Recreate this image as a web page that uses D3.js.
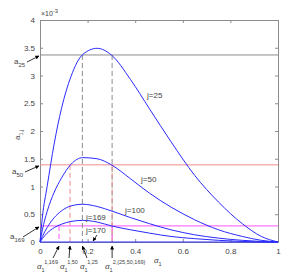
<!DOCTYPE html>
<html>
<head>
<meta charset="utf-8">
<script src="https://cdn.jsdelivr.net/npm/d3@7"></script>
<style>
body{margin:0;background:#fff;}
text{font-family:"Liberation Sans",Arial,sans-serif;fill:#444;}
</style>
</head>
<body>
<div id="chart"></div>
<script>
//constants

var width = 307,
	height = 273,
	margin = {top:20, right:29, bottom:31, left:40};

// values (units of 1e-3)
var alphaGrid = [0, 0.01, 0.03, 0.06, 0.09, 0.13, 0.18, 0.24, 0.30, 0.38, 0.46, 0.55, 0.65, 0.75, 0.85, 0.93, 1];
var j25  = [0, 0.45, 1.0, 1.78, 2.4, 2.98, 3.38, 3.49, 3.37, 2.93, 2.4, 1.81, 1.2, 0.72, 0.33, 0.1, 0];
var j50  = [0, 0.22, 0.55, 0.9, 1.15, 1.4, 1.52, 1.5, 1.39, 1.14, 0.88, 0.63, 0.4, 0.22, 0.1, 0.03, 0];
var j100 = [0, 0.1, 0.26, 0.44, 0.56, 0.65, 0.68, 0.64, 0.56, 0.44, 0.33, 0.22, 0.13, 0.07, 0.03, 0.01, 0];
var j169 = [0, 0.06, 0.16, 0.26, 0.32, 0.37, 0.39, 0.36, 0.29, 0.22, 0.16, 0.1, 0.06, 0.03, 0.01, 0, 0];
var j170 = [0, 0, 0, 0, 0, 0, 0, 0, 0, 0, 0, 0, 0, 0, 0, 0, 0];

var levelNames = ['25', '50', '169'];
var levelValues = [3.37, 1.39, 0.29];
var levelColors = ['#8c8c8c', '#f28b8b', '#ff55ff'];
var crossFirst = [0.178, 0.126, 0.08];
var crossSecond = 0.303;

var xTicks = [0, 0.2, 0.4, 0.6, 0.8, 1];
var yTicks = [0, 0.5, 1, 1.5, 2, 2.5, 3, 3.5, 4];

//drawing area

var svg = d3.select('#chart')
	.append('svg')
	.attr('width', width)
	.attr('height', height);

var x = d3.scaleLinear().domain([0, 1]).range([margin.left, width - margin.right]);
var y = d3.scaleLinear().domain([0, 4]).range([height - margin.bottom, margin.top]);

var axisColor = '#8c8c8c';

// axes, MATLAB style box with inward ticks
var fmt = function(d){ return d === 0 || d === 1 || d === 4 ? d : d3.format('.1f')(d).replace(/\.0$/, ''); };

var gx = svg.append('g').attr('transform', 'translate(0,' + y(0) + ')')
	.call(d3.axisBottom(x).tickValues(xTicks).tickSize(-3).tickPadding(6).tickFormat(fmt));
var gxt = svg.append('g').attr('transform', 'translate(0,' + y(4) + ')')
	.call(d3.axisTop(x).tickValues(xTicks).tickSize(-3).tickFormat(''));
var gy = svg.append('g').attr('transform', 'translate(' + x(0) + ',0)')
	.call(d3.axisLeft(y).tickValues(yTicks).tickSize(-3).tickPadding(5).tickFormat(fmt));
var gyr = svg.append('g').attr('transform', 'translate(' + x(1) + ',0)')
	.call(d3.axisRight(y).tickValues(yTicks).tickSize(-3).tickFormat(''));

[gx, gxt, gy, gyr].forEach(function(g){
	g.select('.domain').attr('stroke', axisColor);
	g.selectAll('.tick line').attr('stroke', axisColor);
	g.selectAll('.tick text').attr('font-size', 8).attr('fill', '#444')
		.attr('font-family', '"Liberation Sans",Arial,sans-serif');
});

// x10^-3
var exp = svg.append('text').attr('x', x(0) + 1).attr('y', y(4) - 4).attr('font-size', 7);
exp.append('tspan').text('\u00d710');
exp.append('tspan').attr('dy', -3).attr('font-size', 6).text('-3');

// horizontal levels a_j
levelValues.forEach(function(v, i){
	svg.append('line')
		.attr('x1', x(0)).attr('x2', x(1))
		.attr('y1', y(v)).attr('y2', y(v))
		.attr('stroke', levelColors[i]).attr('stroke-width', 1);
});

// dashed drops at the crossing points
levelValues.forEach(function(v, i){
	[crossFirst[i], crossSecond].forEach(function(a){
		svg.append('line')
			.attr('x1', x(a)).attr('x2', x(a))
			.attr('y1', y(v)).attr('y2', y(0))
			.attr('stroke', levelColors[i]).attr('stroke-width', 1)
			.attr('stroke-dasharray', '5,3');
	});
});

// curves
var line = d3.line()
	.x(function(d){ return x(d[0]); })
	.y(function(d){ return y(d[1]); })
	.curve(d3.curveMonotoneX);

[j25, j50, j100, j169, j170].forEach(function(s){
	svg.append('path')
		.datum(d3.zip(alphaGrid, s))
		.attr('fill', 'none')
		.attr('stroke', '#2a2aff')
		.attr('stroke-width', 1)
		.attr('d', line);
});

// arrow head marker
svg.append('defs').append('marker')
	.attr('id', 'ah')
	.attr('viewBox', '0 0 10 10')
	.attr('refX', 9).attr('refY', 5)
	.attr('markerWidth', 5).attr('markerHeight', 5)
	.attr('orient', 'auto')
	.append('path').attr('d', 'M0,0L10,5L0,10z').attr('fill', '#000');

var arrow = function(x1, y1, x2, y2){
	svg.append('line')
		.attr('x1', x1).attr('y1', y1).attr('x2', x2).attr('y2', y2)
		.attr('stroke', '#000').attr('stroke-width', 0.8)
		.attr('marker-end', 'url(#ah)');
};

// a_j labels on the left
var aLabelPos = [[14, 64], [12, 174], [10, 239]];
levelValues.forEach(function(v, i){
	var t = svg.append('text').attr('x', aLabelPos[i][0]).attr('y', aLabelPos[i][1]).attr('font-size', 8);
	t.append('tspan').text('a');
	t.append('tspan').attr('dy', 3).attr('font-size', 6).text(levelNames[i]);
	arrow(aLabelPos[i][0] + 13, aLabelPos[i][1] - 2, x(0) - 1, y(v) + 1);
});

// curve labels
var jLabels = [['j=25', 147, 98], ['j=50', 141, 182], ['j=100', 125, 213], ['j=169', 86, 220], ['j=170', 86, 233]];
jLabels.forEach(function(d){
	svg.append('text').attr('x', d[1]).attr('y', d[2]).attr('font-size', 8).text(d[0]);
});
arrow(97, 235, x(0.223), y(0) - 1);

// alpha labels under the axis
var alphaNotes = [
	{sup:'1,169', tx:37, ax:x(0.08), sx:53},
	{sup:'1,50', tx:60, ax:x(0.126), sx:69},
	{sup:'1,25', tx:80, ax:x(0.178), sx:87},
	{sup:'2,{25,50,169}', tx:105, ax:x(crossSecond), sx:x(crossSecond)}
];
alphaNotes.forEach(function(d){
	var t = svg.append('text').attr('x', d.tx).attr('y', 269).attr('font-size', 8).attr('font-style', 'italic');
	t.append('tspan').text('\u03b1');
	t.append('tspan').attr('dy', 3).attr('font-size', 5.5).attr('font-style', 'normal').text('1');
	t.append('tspan').attr('dy', -8).attr('font-size', 5.5).attr('font-style', 'normal').text(d.sup);
	arrow(d.sx, 258, d.ax, y(0) + 4);
});

// axis titles
var xl = svg.append('text').attr('x', 154).attr('y', 263).attr('font-size', 8).attr('font-style', 'italic');
xl.append('tspan').text('\u03b1');
xl.append('tspan').attr('dy', 3).attr('font-size', 5.5).attr('font-style', 'normal').text('1');

var yl = svg.append('text').attr('transform', 'translate(20,140) rotate(-90)').attr('font-size', 8);
yl.append('tspan').text('a');
yl.append('tspan').attr('dy', 3).attr('font-size', 5.5).text('1,j');
</script>
</body>
</html>
